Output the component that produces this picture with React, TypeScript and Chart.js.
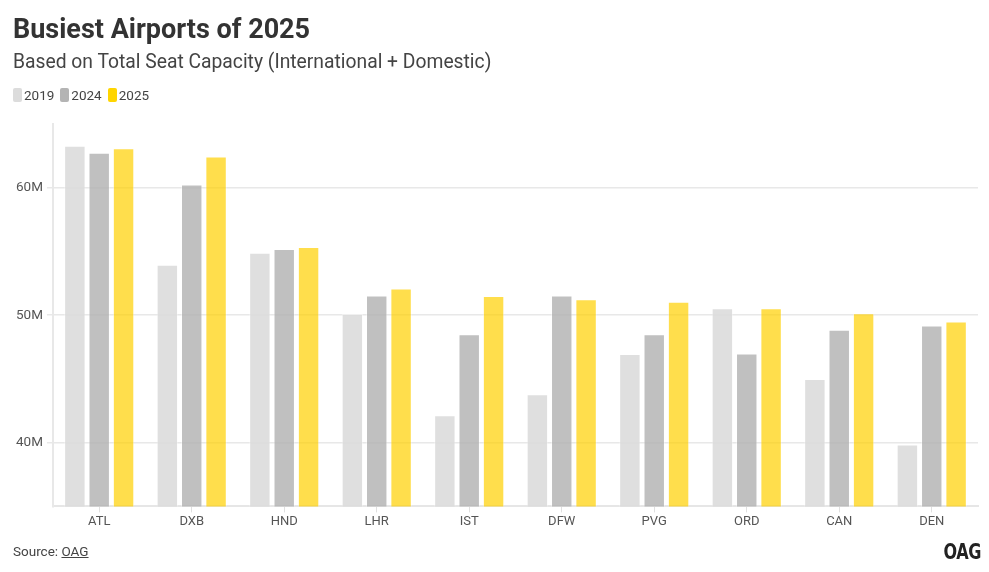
import React, { useEffect, useRef } from "react";
import { Chart, registerables } from "chart.js";

Chart.register(...registerables);

const airports = ["ATL", "DXB", "HND", "LHR", "IST", "DFW", "PVG", "ORD", "CAN", "DEN"];
const seats2019 = [63.3, 53.95, 54.9, 50.1, 42.15, 43.8, 46.95, 50.55, 45.0, 39.85];
const seats2024 = [62.75, 60.25, 55.2, 51.55, 48.5, 51.55, 48.5, 47.0, 48.85, 49.2];
const seats2025 = [63.1, 62.45, 55.35, 52.1, 51.5, 51.25, 51.05, 50.55, 50.15, 49.5];
const yTicks = [40, 50, 60];
const seriesNames = ["2019", "2024", "2025"];
const seriesColors = ["rgba(220,220,220,0.9)", "rgba(176,176,176,0.8)", "rgba(255,208,0,0.7)"];
const legendColors = ["#dcdcdc", "#b4b4b4", "#ffd500"];

const FONT = "Roboto, 'Open Sans', sans-serif";

export default function App() {
  const ref = useRef<HTMLCanvasElement | null>(null);

  useEffect(() => {
    document.body.style.margin = "0";
    const canvas = ref.current;
    if (!canvas) return;
    const values = [seats2019, seats2024, seats2025];
    const chart = new Chart(canvas, {
      type: "bar",
      data: {
        labels: airports,
        datasets: seriesNames.map((n, i) => ({
          label: n,
          data: values[i].map((v) => v * 1e6),
          backgroundColor: seriesColors[i],
          borderColor: "rgba(255,255,255,0.35)",
          borderWidth: 1,
          barPercentage: 0.88,
          categoryPercentage: 0.79,
        })),
      },
      options: {
        animation: false,
        responsive: false,
        maintainAspectRatio: false,
        layout: { padding: { left: 12, right: 11, top: 124, bottom: 40 } },
        plugins: { legend: { display: false }, tooltip: { enabled: false }, title: { display: false } },
        scales: {
          x: {
            grid: { drawOnChartArea: false, drawTicks: true, tickLength: 6, color: "#e0e0e0", offset: false },
            border: { color: "#e6e6e6", width: 2 },
            ticks: { color: "#555", font: { family: FONT, size: 13 }, padding: 2 },
          },
          y: {
            min: 35e6,
            max: 65e6,
            afterBuildTicks: (axis: any) => {
              axis.ticks = yTicks.map((v) => ({ value: v * 1e6 }));
            },
            grid: { color: "#e8e8e8", tickLength: 6, lineWidth: 1.5 },
            border: { color: "#e8e8e8", width: 2 },
            ticks: {
              color: "#555",
              font: { family: FONT, size: 13.5 },
              padding: 4,
              callback: (v: any) => `${Number(v) / 1e6}M`,
            },
          },
        },
      },
    });
    return () => chart.destroy();
  }, []);

  return (
    <div style={{ position: "relative", width: 989, height: 572, background: "#fff", fontFamily: FONT, overflow: "hidden" }}>
      <canvas ref={ref} width={989} height={572} style={{ position: "absolute", left: 0, top: 0, width: 989, height: 572 }} />
      <div style={{ position: "absolute", left: 13, top: 13, fontSize: 27, fontWeight: 700, color: "#333" }}>
        Busiest Airports of 2025
      </div>
      <div style={{ position: "absolute", left: 13, top: 50, fontSize: 19.3, color: "#444" }}>
        Based on Total Seat Capacity (International + Domestic)
      </div>
      <div style={{ position: "absolute", left: 13, top: 87, fontSize: 13.5, color: "#444", display: "flex", alignItems: "center" }}>
        {seriesNames.map((n, i) => (
          <span key={n} style={{ display: "inline-flex", alignItems: "center", marginRight: 6 }}>
            <span style={{ display: "inline-block", width: 9, height: 14, borderRadius: 2, background: legendColors[i], marginRight: 2 }} />
            {n}
          </span>
        ))}
      </div>
      <div style={{ position: "absolute", left: 13, top: 543, fontSize: 13.5, color: "#444" }}>
        Source: <span style={{ textDecoration: "underline" }}>OAG</span>
      </div>
      <div style={{ position: "absolute", right: 8, top: 540, fontSize: 21, fontWeight: 700, color: "#222", fontFamily: "'Liberation Sans Narrow', 'DejaVu Sans Condensed', sans-serif", letterSpacing: -0.5, transform: "scaleX(0.85)", transformOrigin: "right" }}>
        OAG
      </div>
    </div>
  );
}
